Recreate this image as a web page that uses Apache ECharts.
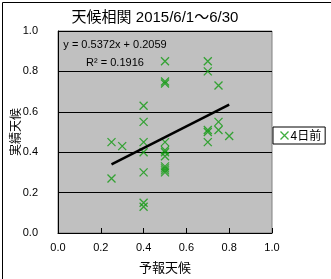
<!DOCTYPE html>
<html><head><meta charset="utf-8">
<script src="https://cdn.jsdelivr.net/npm/echarts@6/dist/echarts.min.js"></script>
<style>html,body{margin:0;padding:0;background:#fff}#c{width:331px;height:279px}</style>
</head><body><div id="c"></div>
<script>
const titleText = '天候相関 2015/6/1～6/30';
const seriesName = '4日前';
const xAxisName = '予報天候';
const yAxisName = '実績天候';
const forecast = [0.25,0.25,0.3,
  0.4,0.4,0.4,0.4,0.4,0.4,0.4,
  0.5,0.5,0.5,0.5,0.5,0.5,0.5,0.5,0.5,0.5,0.5,
  0.7,0.7,0.7,0.7,0.7,
  0.75,0.75,0.75,
  0.8];
const actual = [0.45,0.27,0.43,
  0.63,0.55,0.45,0.40,0.30,0.15,0.13,
  0.85,0.75,0.74,0.45,0.41,0.40,0.38,0.33,0.32,0.31,0.30,
  0.85,0.80,0.51,0.50,0.45,
  0.73,0.55,0.51,
  0.48];
const slope = 0.5372, intercept = 0.2059, r2 = 0.1916;

const pts = forecast.map((x,i)=>[x, actual[i]]);
const xmin = Math.min(...forecast), xmax = Math.max(...forecast);
const trend = [[xmin, intercept + slope*xmin],[xmax, intercept + slope*xmax]];
const green = '#109a10';
const xPath = 'path://M0,0L10,10M10,0L0,10';
const font = '"Liberation Sans","Noto Sans CJK JP",sans-serif';
const cjk = '"Noto Sans CJK JP",sans-serif';

const chart = echarts.init(document.getElementById('c'), null, {renderer:'canvas'});
chart.setOption({
  animation:false,
  backgroundColor:'#fff',
  title:{text:titleText, left:150, textAlign:'center', top:5,
    textStyle:{fontSize:15, fontWeight:'normal', color:'#000', fontFamily:font}},
  grid:{left:58, top:31, width:214, height:202, containLabel:false, outerBoundsMode:'none',
    show:true, backgroundColor:'#c0c0c0', borderColor:'#808080', borderWidth:1},
  xAxis:{type:'value', min:0, max:1, interval:0.2,
    name:xAxisName, nameLocation:'middle', nameGap:28, nameMoveOverlap:false,
    nameTextStyle:{fontSize:13, color:'#000', fontFamily:cjk},
    axisLine:{lineStyle:{color:'#000', width:1}},
    axisTick:{inside:true, length:5, lineStyle:{color:'#000'}},
    axisLabel:{margin:9, fontSize:11, color:'#000', fontFamily:font, formatter:v=>v.toFixed(1)},
    splitLine:{show:false}},
  yAxis:{type:'value', min:0, max:1, interval:0.2,
    name:yAxisName, nameLocation:'middle', nameGap:37, nameRotate:90, nameMoveOverlap:false,
    nameTextStyle:{fontSize:12, color:'#000', fontFamily:cjk},
    axisLine:{lineStyle:{color:'#000', width:1}},
    axisTick:{show:false},
    axisLabel:{margin:20, fontSize:11, color:'#000', fontFamily:font, formatter:v=>v.toFixed(1)},
    splitLine:{show:true, lineStyle:{color:'#000', width:1}}},
  legend:{left:273, top:127, orient:'vertical', backgroundColor:'#fff', borderColor:'#000', borderWidth:1,
    padding:[2,4,2,5], itemWidth:8, itemHeight:8, itemGap:0,
    textStyle:{fontSize:12, color:'#000', fontFamily:cjk, padding:[0,0,0,-3]},
    data:[{name:seriesName, icon:xPath, itemStyle:{color:'none', borderColor:green, borderWidth:1.3}}]},
  series:[
    {type:'scatter', name:seriesName, data:pts, symbol:xPath, symbolSize:8,
     itemStyle:{color:'none', borderColor:green, borderWidth:1.3}, z:3},
    {type:'line', name:'trend', data:trend, showSymbol:false, symbol:'none',
     lineStyle:{color:'#000', width:2.5}, z:4, silent:true}
  ],
  graphic:[
    {type:'rect', left:0, top:0, shape:{x:0.5,y:0.5,width:330,height:278}, style:{fill:'none', stroke:'#000', lineWidth:1}, silent:true},
    {type:'text', x:115, y:45, style:{text:'y = ' + slope.toFixed(4) + 'x + ' + intercept.toFixed(4), textAlign:'center', textVerticalAlign:'middle', fontSize:11, fill:'#000', fontFamily:font}},
    {type:'text', x:115, y:63, style:{text:'R² = ' + r2.toFixed(4), textAlign:'center', textVerticalAlign:'middle', fontSize:11, fill:'#000', fontFamily:font}}
  ]
});
</script></body></html>
